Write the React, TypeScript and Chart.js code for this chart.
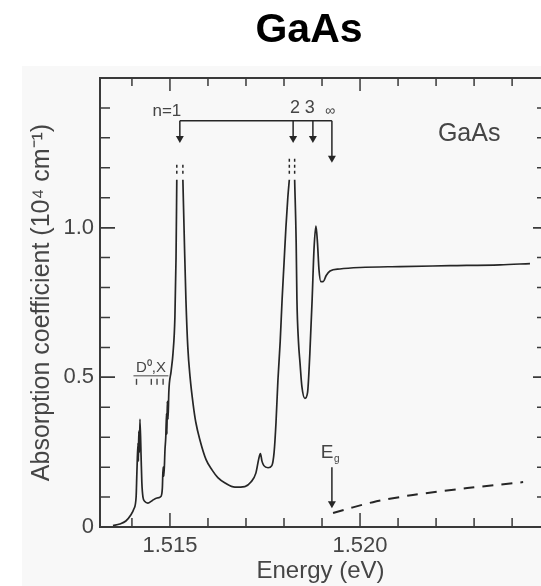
import React, { useEffect, useRef } from "react";
import { Chart, registerables } from "chart.js";

Chart.register(...registerables);

// ---- data (energy in eV, absorption in 10^4 cm^-1) ----
const energy: number[] = [
  1.5135, 1.51368, 1.51384, 1.51397, 1.51405, 1.51411, 1.51413, 1.51416, 1.51417, 1.51418,
  1.5142, 1.51421, 1.51424, 1.51426, 1.51429, 1.51434, 1.51442, 1.51453, 1.51466, 1.51476,
  1.5148, 1.51482, 1.51484, 1.51487, 1.51489, 1.51491, 1.51492, 1.51493, 1.51495, 1.51497,
  1.51503, 1.51508, 1.51513, 1.51516, 1.51518, 1.51526, 1.51534, 1.51538, 1.51542, 1.51547,
  1.51553, 1.51561, 1.51568, 1.51579, 1.51595, 1.51611, 1.51626, 1.51645, 1.51671, 1.51697,
  1.51713, 1.51726, 1.51734, 1.51738, 1.51742, 1.51747, 1.51758, 1.51768, 1.51774, 1.51779,
  1.51784, 1.5179, 1.51795, 1.518, 1.51805, 1.5181, 1.51814, 1.51821, 1.51828, 1.51832,
  1.51834, 1.51838, 1.51842, 1.51847, 1.51855, 1.51862, 1.51868, 1.51874, 1.51879, 1.51884,
  1.51888, 1.51892, 1.51897, 1.51903, 1.51911, 1.51921, 1.51947, 1.52, 1.52105, 1.52237,
  1.52368, 1.52447,
];
const absorption: (number | null)[] = [
  0.005, 0.01, 0.02, 0.04, 0.06, 0.1, 0.18, 0.28, 0.22, 0.32,
  0.25, 0.36, 0.24, 0.15, 0.1, 0.085, 0.08, 0.088, 0.097, 0.102,
  0.13, 0.2, 0.17, 0.26, 0.3, 0.38, 0.31, 0.42, 0.36, 0.45,
  0.52, 0.58, 0.7, 0.9, 1.16, null, 1.16, 0.95, 0.76, 0.6,
  0.5, 0.41, 0.35, 0.29, 0.225, 0.19, 0.165, 0.147, 0.133, 0.135,
  0.15, 0.18, 0.23, 0.245, 0.22, 0.205, 0.198, 0.205, 0.25, 0.35,
  0.49, 0.62, 0.76, 0.88, 1.0, 1.1, 1.16, null, 1.16, 0.95,
  0.76, 0.62, 0.55, 0.47, 0.43, 0.45, 0.58, 0.76, 0.93, 1.005,
  0.95, 0.86, 0.82, 0.82, 0.84, 0.855, 0.862, 0.867, 0.87, 0.873,
  0.876, 0.88,
];

// band-to-band continuum above Eg (dashed)
const continuumEnergy: number[] = [1.51929, 1.52034, 1.52139, 1.52282, 1.52429];
const continuumAbs: number[] = [0.047, 0.083, 0.107, 0.13, 0.15];

// truncation marks above the n=1 and n=2 peaks
const cutEnergy: number[] = [1.51518, 1.51534, 1.51814, 1.51828];
const cutLow: number[] = [1.18, 1.18, 1.18, 1.18];
const cutHigh: number[] = [1.22, 1.22, 1.24, 1.24];

// exciton series arrows n = 1, 2, 3, ∞
const seriesLabels: string[] = ["n=1", "2", "3", "∞"];
const seriesArrowE: number[] = [1.51526, 1.51824, 1.51876, 1.51926];
const seriesArrowTip: number[] = [1.283, 1.283, 1.283, 1.217];
const seriesLabelE: number[] = [1.51492, 1.51829, 1.51868, 1.51921];
const seriesLabelY: number[] = [1.372, 1.382, 1.382, 1.375];
const bracketY = 1.357;

// band gap arrow
const gapE = 1.51926;
const gapArrowFrom = 0.2;
const gapArrowTo = 0.063;

// axes
const xMin = 1.51316;
const xMax = 1.52476;
const yMin = 0;
const yMax = 1.5;
const xTickValues: number[] = [1.514, 1.515, 1.516, 1.517, 1.518, 1.519, 1.52, 1.521, 1.522, 1.523, 1.524];
const xLabelValues: number[] = [1.515, 1.52];
const yTickValues: number[] = [0.1, 0.2, 0.3, 0.4, 0.5, 0.6, 0.7, 0.8, 0.9, 1.0, 1.1, 1.2, 1.3, 1.4];
const yLabelValues: number[] = [0, 0.5, 1.0];

const FONT = "'Liberation Sans', Arial, Helvetica, sans-serif";
const TEXT = "#454545";
const INK = "#262626";

const decorPlugin = {
  id: "decor",
  beforeDraw(chart: any) {
    const { ctx, width, height } = chart;
    ctx.save();
    ctx.fillStyle = "#ffffff";
    ctx.fillRect(0, 0, width, height);
    ctx.fillStyle = "#f8f8f8";
    ctx.fillRect(22, 66, width - 22, height - 66);
    ctx.restore();
  },
  afterDatasetsDraw(chart: any) {
    const { ctx, chartArea } = chart;
    const xs = chart.scales.x;
    const ys = chart.scales.y;
    const px = (v: number) => xs.getPixelForValue(v);
    const py = (v: number) => ys.getPixelForValue(v);
    const { left, right, top, bottom } = chartArea;
    const near = (a: number, b: number) => Math.abs(a - b) < 1e-7;

    ctx.save();
    // frame
    ctx.strokeStyle = "#3a3a3a";
    ctx.lineWidth = 2;
    ctx.beginPath();
    ctx.moveTo(right + 2, top);
    ctx.lineTo(left, top);
    ctx.lineTo(left, bottom);
    ctx.lineTo(right + 2, bottom);
    ctx.stroke();

    // x ticks (inward, bottom and top)
    ctx.lineWidth = 1.5;
    xTickValues.forEach((v) => {
      const x = px(v);
      const major = xLabelValues.some((m) => near(m, v));
      ctx.beginPath();
      ctx.moveTo(x, bottom);
      ctx.lineTo(x, bottom - (major ? 14 : 9));
      ctx.moveTo(x, top);
      ctx.lineTo(x, top + (major ? 13 : 8));
      ctx.stroke();
    });
    // y ticks (inward, left and right)
    [...yLabelValues, ...yTickValues].forEach((v) => {
      const y = py(v);
      const major = yLabelValues.some((m) => near(m, v));
      ctx.beginPath();
      ctx.moveTo(left, y);
      ctx.lineTo(left + (major ? 15 : 10), y);
      ctx.moveTo(right, y);
      ctx.lineTo(right - (major ? 8 : 4), y);
      ctx.stroke();
    });

    // arrow helper
    const arrowDown = (x: number, y0: number, y1: number) => {
      ctx.beginPath();
      ctx.moveTo(x, y0);
      ctx.lineTo(x, y1 - 6);
      ctx.stroke();
      ctx.beginPath();
      ctx.moveTo(x - 4, y1 - 7);
      ctx.lineTo(x + 4, y1 - 7);
      ctx.lineTo(x, y1);
      ctx.closePath();
      ctx.fill();
    };

    ctx.strokeStyle = INK;
    ctx.fillStyle = INK;
    ctx.lineWidth = 1.5;
    // exciton series bracket
    const by = py(bracketY);
    ctx.beginPath();
    ctx.moveTo(px(seriesArrowE[0]), by);
    ctx.lineTo(px(seriesArrowE[seriesArrowE.length - 1]), by);
    ctx.stroke();
    seriesArrowE.forEach((e, i) => arrowDown(px(e), by, py(seriesArrowTip[i])));

    ctx.fillStyle = TEXT;
    ctx.textAlign = "center";
    ctx.textBaseline = "alphabetic";
    seriesLabels.forEach((t, i) => {
      ctx.font = i === 0 ? `17px ${FONT}` : i === 3 ? `14px ${FONT}` : `18px ${FONT}`;
      ctx.fillText(t, px(seriesLabelE[i]), py(seriesLabelY[i]));
    });

    // Eg arrow and label
    ctx.fillStyle = INK;
    arrowDown(px(gapE), py(gapArrowFrom), py(gapArrowTo));
    ctx.fillStyle = TEXT;
    ctx.font = `19px ${FONT}`;
    ctx.textAlign = "center";
    ctx.fillText("E", px(1.51913), py(0.23));
    ctx.font = `10px ${FONT}`;
    ctx.fillText("g", px(1.51939), py(0.218));

    // GaAs label inside
    ctx.font = `25px ${FONT}`;
    ctx.fillText("GaAs", px(1.52287), py(1.29));

    // D0,X label
    ctx.font = `15px ${FONT}`;
    ctx.fillText("D⁰,X", px(1.5145), py(0.517));
    ctx.strokeStyle = TEXT;
    ctx.lineWidth = 1;
    ctx.beginPath();
    ctx.moveTo(px(1.51404), py(0.505));
    ctx.lineTo(px(1.51496), py(0.505));
    ctx.stroke();
    ctx.lineWidth = 1.4;
    [1.51412, 1.51451, 1.51466, 1.51482].forEach((e) => {
      ctx.beginPath();
      ctx.moveTo(px(e), py(0.495));
      ctx.lineTo(px(e), py(0.475));
      ctx.stroke();
    });

    // chart title
    ctx.fillStyle = "#000000";
    ctx.font = `bold 41px ${FONT}`;
    ctx.textAlign = "center";
    ctx.fillText("GaAs", 309, 42);
    ctx.restore();
  },
};

export default function App() {
  const canvasRef = useRef<HTMLCanvasElement | null>(null);

  useEffect(() => {
    if (!canvasRef.current) return;
    const mainData = energy.map((e, i) => ({ x: e, y: absorption[i] }));
    const contData = continuumEnergy.map((e, i) => ({ x: e, y: continuumAbs[i] }));
    const cutData: { x: number; y: number | null }[] = [];
    cutEnergy.forEach((e, i) => {
      cutData.push({ x: e, y: cutLow[i] }, { x: e, y: cutHigh[i] }, { x: e, y: null });
    });

    const chart = new Chart(canvasRef.current, {
      type: "line",
      data: {
        datasets: [
          {
            label: "Absorption",
            data: mainData as any,
            borderColor: INK,
            borderWidth: 1.7,
            pointRadius: 0,
            cubicInterpolationMode: "monotone",
            spanGaps: false,
          },
          {
            label: "Continuum",
            data: contData as any,
            borderColor: INK,
            borderWidth: 2,
            borderDash: [11, 8],
            pointRadius: 0,
            tension: 0.3,
          },
          {
            label: "Cut",
            data: cutData as any,
            borderColor: INK,
            borderWidth: 1.5,
            borderDash: [3, 3],
            pointRadius: 0,
            spanGaps: false,
          },
        ],
      },
      options: {
        responsive: false,
        animation: false,
        devicePixelRatio: 1,
        layout: { padding: { top: 78, left: 0, right: 0, bottom: 0 } },
        plugins: {
          legend: { display: false },
          tooltip: { enabled: false },
          title: { display: false },
        },
        scales: {
          x: {
            type: "linear",
            min: xMin,
            max: xMax,
            grid: { display: false, drawTicks: false },
            border: { display: false },
            afterBuildTicks: (s: any) => {
              s.ticks = xLabelValues.map((v) => ({ value: v }));
            },
            afterFit: (s: any) => {
              s.height = 59;
            },
            ticks: {
              autoSkip: false,
              maxRotation: 0,
              padding: 6,
              color: TEXT,
              font: { family: FONT, size: 22 },
              callback: (v: any) => Number(v).toFixed(3),
            },
            title: {
              display: true,
              text: "Energy (eV)",
              color: TEXT,
              font: { family: FONT, size: 24 },
              padding: { top: 0, bottom: 0 },
            },
          },
          y: {
            type: "linear",
            min: yMin,
            max: yMax,
            grid: { display: false, drawTicks: false },
            border: { display: false },
            afterBuildTicks: (s: any) => {
              s.ticks = yLabelValues.map((v) => ({ value: v }));
            },
            afterFit: (s: any) => {
              s.width = 100;
            },
            ticks: {
              padding: 6,
              color: TEXT,
              font: { family: FONT, size: 22 },
              callback: (v: any) => (Number(v) === 0 ? "0" : Number(v).toFixed(1)),
            },
            title: {
              display: true,
              text: "Absorption coefficient (10⁴ cm⁻¹)",
              color: TEXT,
              font: { family: FONT, size: 25 },
              padding: { top: 27, bottom: 0 },
            },
          },
        },
      },
      plugins: [decorPlugin],
    });
    return () => chart.destroy();
  }, []);

  return (
    <div style={{ position: "absolute", left: 0, top: 0, width: 541, height: 586 }}>
      <canvas ref={canvasRef} width={541} height={586} style={{ display: "block" }} />
    </div>
  );
}
